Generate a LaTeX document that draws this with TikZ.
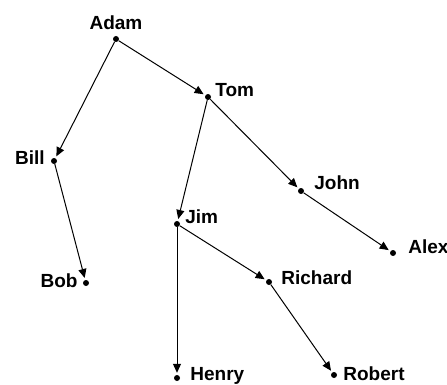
\documentclass[tikz,border=0pt]{standalone}
\usepackage{fontspec}
\setmainfont{Liberation Sans}
\usetikzlibrary{positioning,arrows.meta}
\begin{document}
\begin{tikzpicture}[x=1pt,y=-1pt,
        dot/.style = {circle, fill, inner sep=0pt, minimum size=6pt},
        lbl/.style = {inner sep=0pt, font=\fontsize{19}{19}\selectfont\bfseries},
        edge/.style = {-{Triangle[length=9pt,width=8pt]}, line width=1pt, shorten >=2pt}]
        \useasboundingbox (0,0) rectangle (447,385);
        % dots
        \node[dot] (adam) at (116,39) {};
        \node[dot] (tom) at (208,97) {};
        \node[dot] (bill) at (54,161) {};
        \node[dot] (bob) at (86,283) {};
        \node[dot] (jim) at (177,224) {};
        \node[dot] (john) at (301,191) {};
        \node[dot] (alex) at (393,253) {};
        \node[dot] (richard) at (269,282) {};
        \node[dot] (henry) at (177,378) {};
        \node[dot] (robert) at (334,375) {};
        % names
        \node[lbl, above=6pt of adam] (adamlbl) {Adam};
        \node[lbl, right=4pt of tom, yshift=7pt] (tomlbl) {Tom};
        \node[lbl, left=6pt of bill, yshift=3pt] (billlbl) {Bill};
        \node[lbl, left=5pt of bob, yshift=2pt] (boblbl) {Bob};
        \node[lbl, right=5pt of jim, yshift=7pt] (jimlbl) {Jim};
        \node[lbl, right=10pt of john, yshift=8pt] (johnlbl) {John};
        \node[lbl, right=12pt of alex, yshift=6pt] (alexlbl) {Alex};
        \node[lbl, right=9pt of richard, yshift=4pt] (richardlbl) {Richard};
        \node[lbl, right=10pt of henry, yshift=2pt] (henrylbl) {Henry};
        \node[lbl, right=6pt of robert, yshift=1pt] (robertlbl) {Robert};
        % links
        \draw[edge] (adam) -- (tom);
        \draw[edge] (adam) -- (bill);
        \draw[edge] (bill) -- (bob);
        \draw[edge] (tom) -- (jim);
        \draw[edge] (tom) -- (john);
        \draw[edge] (john) -- (alex);
        \draw[edge] (jim) -- (richard);
        \draw[edge] (jim) -- (henry);
        \draw[edge] (richard) -- (robert);
\end{tikzpicture}
\end{document}
